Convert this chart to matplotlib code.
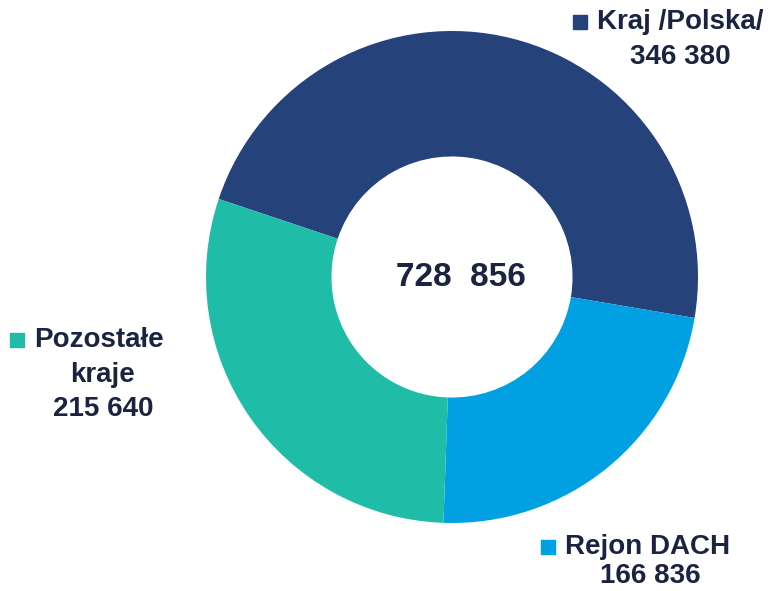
import matplotlib.pyplot as plt

labels = ["Kraj /Polska/", "Rejon DACH", "Pozostałe\nkraje"]
values = [346380, 166836, 215640]
colors = ["#26427b", "#00a0e3", "#1fbda7"]
text_color = "#1a2340"

W, H = 772, 591
fig = plt.figure(figsize=(W / 100, H / 100), dpi=100)
ax = fig.add_axes([0, 0, 1, 1])

cx, cy, r = 452, H - 277, 246
ax.pie(values, colors=colors, startangle=161.5, counterclock=False,
       center=(cx, cy), radius=r, frame=True,
       wedgeprops=dict(width=r * 0.51, edgecolor="none"))
ax.set_xlim(0, W)
ax.set_ylim(0, H)
ax.set_aspect("equal")
ax.axis("off")

font = dict(family=["Liberation Sans", "DejaVu Sans"], weight="bold", color=text_color)

total = sum(values)
fmt = lambda v: f"{v:,}".replace(",", " ")
ax.text(cx + 9, cy, fmt(total).replace(" ", "  "), ha="center", va="center", fontsize=24, **font)

# label block: (text center x, first line y, marker x, line step) in pixels
layout = [(680, 22, 580, 35), (650, 547, 548, 29), (103, 340, 17, 34.5)]
for lab, val, col, (tx, ty, mx, step) in zip(labels, values, colors, layout):
    lines = lab.split("\n") + [fmt(val)]
    for i, line in enumerate(lines):
        y = ty + i * step
        if i == 0:
            ax.text(mx + 17, H - y, line, ha="left", va="center", fontsize=20, **font)
        else:
            ax.text(tx, H - y, line, ha="center", va="center", fontsize=20, **font)
    ax.scatter([mx], [H - ty], marker="s", s=100, color=col, zorder=5)

fig.savefig("out.png", dpi=100, facecolor="white")
